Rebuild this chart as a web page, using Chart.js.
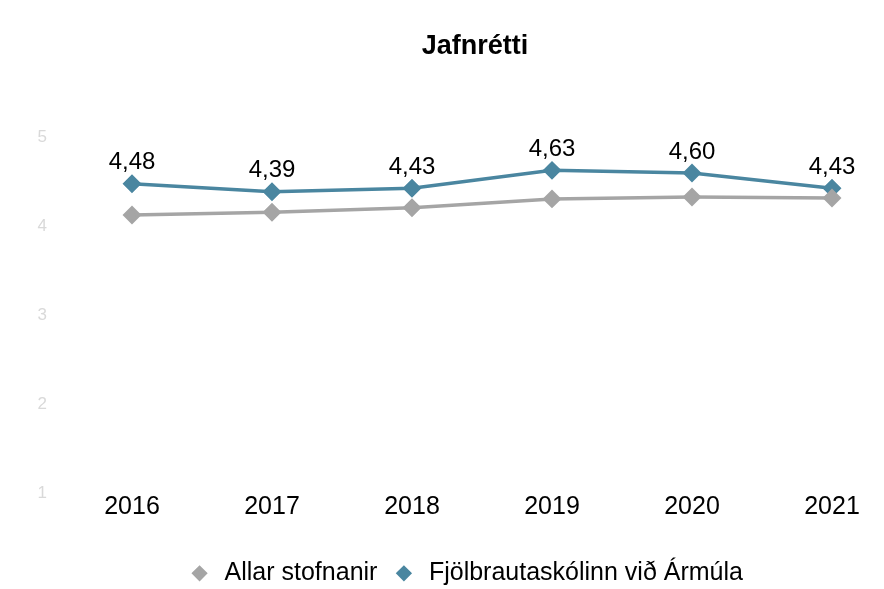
<!DOCTYPE html>
<html>
<head>
<meta charset="utf-8">
<script src="https://cdn.jsdelivr.net/npm/chart.js@4"></script>
<style>
  html, body { margin: 0; padding: 0; background: #fff; }
  #wrap { width: 884px; height: 589px; }
</style>
</head>
<body>
<div id="wrap"><canvas id="myChart"></canvas></div>
<script>
const years = ['2016', '2017', '2018', '2019', '2020', '2021'];
const allarStofnanir = [4.13, 4.16, 4.21, 4.31, 4.33, 4.32];
const fjolbraut = [4.48, 4.39, 4.43, 4.63, 4.60, 4.43];
const yTicks = [1, 2, 3, 4, 5];

const FONT = "'Liberation Sans', Arial, sans-serif";

// draws the value above each point of the school series
const valueLabels = {
    id: 'valueLabels',
    afterDatasetsDraw(chart) {
        const ctx = chart.ctx;
        const meta = chart.getDatasetMeta(1);
        ctx.save();
        ctx.font = "24px " + FONT;
        ctx.fillStyle = '#000';
        ctx.textAlign = 'center';
        ctx.textBaseline = 'middle';
        meta.data.forEach((pt, i) => {
            const txt = fjolbraut[i].toFixed(2).replace('.', ',');
            ctx.fillText(txt, pt.x, pt.y - 21);
        });
        ctx.restore();
    }
};

// nudge title and legend a bit left of the plot centre, like the original
const nudgeBoxes = {
    id: 'nudgeBoxes',
    afterLayout(chart) {
        if (chart.legend) { chart.legend.left -= 17; chart.legend.right -= 17; }
        if (chart.titleBlock) { chart.titleBlock.left -= 7; chart.titleBlock.right -= 7; }
    }
};

document.addEventListener('DOMContentLoaded', () => {
    const ctx = document.getElementById('myChart').getContext('2d');

    new Chart(ctx, {
        type: 'line',
        data: {
            labels: years,
            datasets: [{
                label: 'Allar stofnanir',
                data: allarStofnanir,
                borderColor: '#a5a5a5',
                backgroundColor: '#a5a5a5',
                borderWidth: 3.5,
                pointStyle: 'rectRot',
                pointRadius: 7,
                pointHoverRadius: 7
            }, {
                label: 'Fjölbrautaskólinn við Ármúla',
                data: fjolbraut,
                borderColor: '#4a86a0',
                backgroundColor: '#4a86a0',
                borderWidth: 3.5,
                pointStyle: 'rectRot',
                pointRadius: 7,
                pointHoverRadius: 7
            }]
        },
        options: {
            responsive: true,
            maintainAspectRatio: false,
            animation: false,
            layout: { padding: { left: 30, right: 52, top: 0, bottom: -21 } },
            scales: {
                x: {
                    offset: false,
                    grid: { display: false, drawTicks: false },
                    border: { display: false },
                    afterFit: (axis) => { axis.height += 27; },
                    ticks: {
                        color: '#000',
                        padding: -2,
                        maxRotation: 0,
                        font: { family: FONT, size: 25 }
                    }
                },
                y: {
                    min: 1,
                    max: 5,
                    afterBuildTicks: (axis) => { axis.ticks = yTicks.map(v => ({ value: v })); },
                    afterFit: (axis) => { axis.width = 102; },
                    grid: { display: false, drawTicks: false },
                    border: { display: false },
                    ticks: {
                        color: '#d9d9d9',
                        padding: 85,
                        font: { family: FONT, size: 17 }
                    }
                }
            },
            plugins: {
                title: {
                    display: true,
                    text: 'Jafnrétti',
                    fullSize: false,
                    color: '#000',
                    font: { family: FONT, size: 27, weight: 'bold' },
                    padding: { top: 30, bottom: 75 }
                },
                legend: {
                    position: 'bottom',
                    fullSize: false,
                    labels: {
                        usePointStyle: true,
                        pointStyle: 'rectRot',
                        boxHeight: 8,
                        color: '#000',
                        padding: 14,
                        font: { family: FONT, size: 25 }
                    }
                },
                tooltip: { enabled: false }
            }
        },
        plugins: [valueLabels, nudgeBoxes]
    });
});
</script>
</body>
</html>
